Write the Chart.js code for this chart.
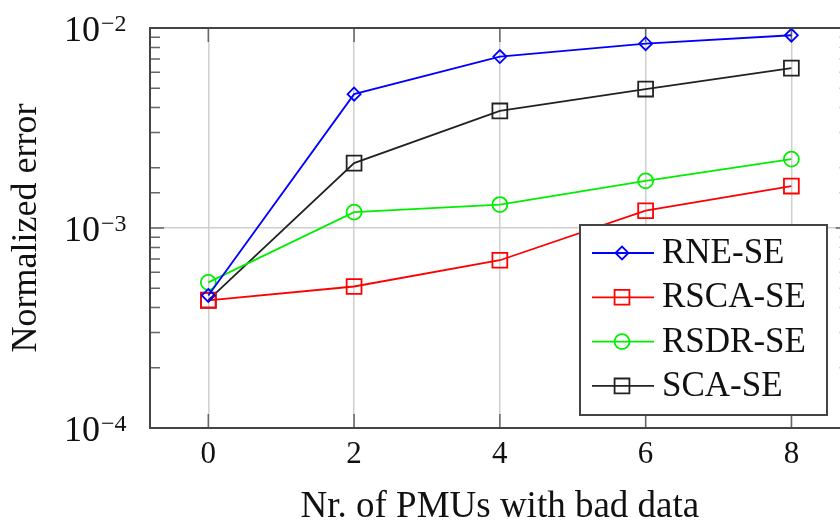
<!DOCTYPE html>
<html>
<head>
<meta charset="utf-8">
<script src="https://cdn.jsdelivr.net/npm/chart.js@4/dist/chart.umd.min.js"></script>
<style>
  html, body { margin: 0; padding: 0; background: #fff; overflow: hidden; }
</style>
</head>
<body>
<canvas id="errChart" width="862" height="522"></canvas>
<script>
// Normalized error vs. number of PMUs with bad data
const pmuCounts = [0, 2, 4, 6, 8];
const seriesNames = ['RNE-SE', 'RSCA-SE', 'RSDR-SE', 'SCA-SE'];
const rneSE  = [4.6e-4, 4.67e-3, 7.2e-3, 8.35e-3, 9.2e-3];
const rscaSE = [4.35e-4, 5.1e-4, 6.9e-4, 1.22e-3, 1.62e-3];
const rsdrSE = [5.35e-4, 1.2e-3, 1.31e-3, 1.72e-3, 2.21e-3];
const scaSE  = [4.36e-4, 2.11e-3, 3.85e-3, 4.95e-3, 6.3e-3];
const xTicks = [0, 2, 4, 6, 8];
const yTickBase = '10';
const yTickExps = ['−4', '−3', '−2'];

const serif = '"Liberation Serif", "DejaVu Serif", serif';
const isDecade = v => Math.abs(Math.log10(v) - Math.round(Math.log10(v))) < 1e-6;
const pts = vals => pmuCounts.map((x, i) => ({ x: x, y: vals[i] }));

function series(label, vals, color, style, radius) {
    return {
        label: label,
        data: pts(vals),
        borderColor: color,
        borderWidth: 1.8,
        pointStyle: style,
        pointRadius: radius,
        pointHoverRadius: radius,
        pointBorderColor: color,
        pointBackgroundColor: 'rgba(0,0,0,0)',
        pointBorderWidth: 1.8,
        tension: 0
    };
}

// ticks, frame, y labels and legend box
const framePlugin = {
    id: 'frame',
    beforeDatasetsDraw(chart) {
        const { ctx, chartArea: a, scales: { x, y } } = chart;
        ctx.save();
        ctx.strokeStyle = '#666';
        ctx.lineWidth = 1.5;
        ctx.beginPath();
        y.ticks.forEach(t => {
            const py = y.getPixelForValue(t.value);
            const len = isDecade(t.value) ? 14 : 10;
            ctx.moveTo(a.left, py); ctx.lineTo(a.left + len, py);
            ctx.moveTo(a.right, py); ctx.lineTo(a.right - len, py);
        });
        x.ticks.forEach(t => {
            const px = x.getPixelForValue(t.value);
            ctx.moveTo(px, a.bottom); ctx.lineTo(px, a.bottom - 14);
            ctx.moveTo(px, a.top); ctx.lineTo(px, a.top + 14);
        });
        ctx.stroke();
        ctx.restore();
    },
    afterDatasetsDraw(chart) {
        const { ctx, chartArea: a, scales: { y } } = chart;
        ctx.save();
        ctx.strokeStyle = '#444';
        ctx.lineWidth = 2;
        ctx.strokeRect(a.left, a.top, a.right - a.left, a.bottom - a.top);

        // y tick labels 10^-n
        ctx.fillStyle = '#111';
        ctx.textBaseline = 'alphabetic';
        [1e-4, 1e-3, 1e-2].forEach((v, i) => {
            const py = y.getPixelForValue(v);
            ctx.font = '36px ' + serif;
            ctx.textAlign = 'right';
            ctx.fillText(yTickBase, 100, py + 13);
            ctx.font = '24px ' + serif;
            ctx.textAlign = 'left';
            ctx.fillText(yTickExps[i], 101, py + 3);
        });
        ctx.restore();
    },
    afterDraw(chart) {
        const ctx = chart.ctx;
        const box = { left: 580, top: 225, right: 827, bottom: 415 };
        ctx.save();
        ctx.fillStyle = '#fff';
        ctx.fillRect(box.left, box.top, box.right - box.left, box.bottom - box.top);
        ctx.strokeStyle = '#444';
        ctx.lineWidth = 2;
        ctx.strokeRect(box.left, box.top, box.right - box.left, box.bottom - box.top);
        chart.data.datasets.forEach((ds, i) => {
            const cy = 253 + i * 44.3;
            ctx.strokeStyle = ds.borderColor;
            ctx.lineWidth = ds.borderWidth;
            ctx.beginPath();
            ctx.moveTo(592, cy); ctx.lineTo(654, cy);
            ctx.stroke();
            ctx.fillStyle = 'rgba(0,0,0,0)';
            Chart.helpers.drawPoint(ctx, {
                pointStyle: ds.pointStyle,
                radius: ds.pointRadius,
                borderWidth: ds.pointBorderWidth
            }, 622, cy);
            ctx.fillStyle = '#111';
            ctx.font = '35px ' + serif;
            ctx.textAlign = 'left';
            ctx.textBaseline = 'middle';
            ctx.fillText(ds.label, 662, cy + 1);
        });
        ctx.restore();
    }
};

window.onload = function() {
    const ctx = document.getElementById('errChart').getContext('2d');
    new Chart(ctx, {
        type: 'line',
        data: {
            datasets: [
                series(seriesNames[0], rneSE, '#0000ff', 'rectRot', 6.5),
                series(seriesNames[1], rscaSE, '#ff0000', 'rect', 10.5),
                series(seriesNames[2], rsdrSE, '#00ee00', 'circle', 7.5),
                series(seriesNames[3], scaSE, '#222222', 'rect', 10.5)
            ]
        },
        options: {
            responsive: false,
            animation: false,
            events: [],
            layout: { padding: { top: 28, right: 2, left: 0, bottom: 0 } },
            plugins: {
                legend: { display: false },
                tooltip: { enabled: false }
            },
            scales: {
                x: {
                    type: 'linear',
                    min: -0.8,
                    max: 8.8,
                    afterBuildTicks: s => { s.ticks = xTicks.map(v => ({ value: v })); },
                    afterFit: s => { s.height = 94; },
                    grid: { color: '#cfcfcf', lineWidth: 1.5, drawTicks: false },
                    border: { display: false },
                    ticks: {
                        padding: 8,
                        color: '#111',
                        font: { family: serif, size: 31 }
                    },
                    title: {
                        display: true,
                        text: 'Nr. of PMUs with bad data',
                        color: '#111',
                        font: { family: serif, size: 37, lineHeight: 1 },
                        padding: { top: 0, bottom: -4 }
                    }
                },
                y: {
                    type: 'logarithmic',
                    min: 1e-4,
                    max: 1e-2,
                    afterFit: s => { s.width = 150; },
                    grid: {
                        color: c => (c.tick && isDecade(c.tick.value)) ? '#cfcfcf' : 'rgba(0,0,0,0)',
                        lineWidth: 1.5,
                        drawTicks: false
                    },
                    border: { display: false },
                    ticks: { display: false },
                    title: {
                        display: true,
                        text: 'Normalized error',
                        color: '#111',
                        font: { family: serif, size: 36, lineHeight: 1 },
                        padding: { top: 9, bottom: 0 }
                    }
                }
            }
        },
        plugins: [framePlugin]
    });
};
</script>
</body>
</html>
